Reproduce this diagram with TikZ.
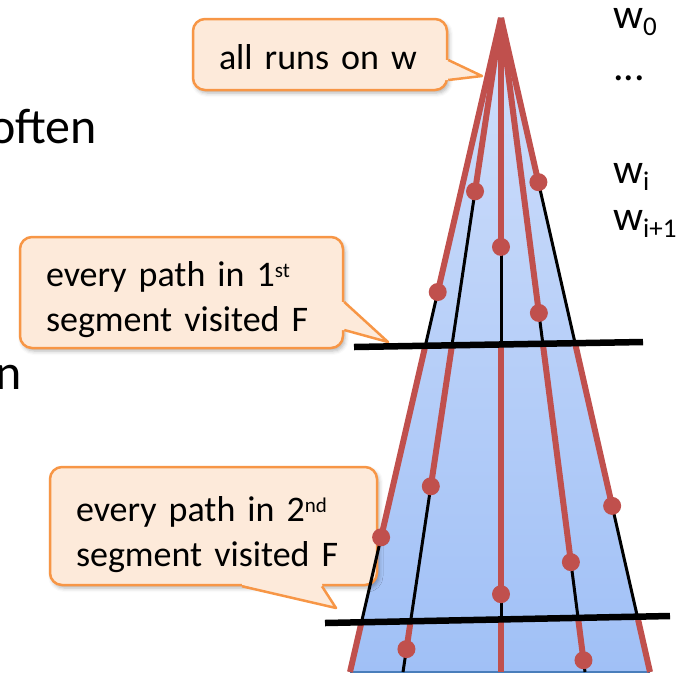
\documentclass[tikz,border=0pt]{standalone}
\usepackage{fontspec}
\setmainfont{Carlito}
\usetikzlibrary{calc,shadows.blur}

\definecolor{boxfill}{RGB}{253,234,218}
\definecolor{boxline}{RGB}{247,150,70}
\definecolor{runred}{RGB}{192,80,77}
\definecolor{conetop}{RGB}{208,223,251}
\definecolor{conebot}{RGB}{160,192,246}
\definecolor{coneedge}{RGB}{74,126,187}

\newcommand{\wsub}[1]{\raisebox{-7pt}{\fontsize{27}{27}\selectfont #1}}
\newcommand{\wsup}[1]{\raisebox{9pt}[0pt][0pt]{\fontsize{21}{21}\selectfont #1}}
\newcommand{\toppad}[1]{\rule{0pt}{#1}}

\tikzset{
  callout/.style={draw=boxline, fill=boxfill, line width=2.5pt, rounded corners=12pt,
    align=left, inner xsep=26pt, inner ysep=0pt, font=\fontsize{36}{45}\selectfont,
    blur shadow={shadow xshift=2pt, shadow yshift=-3pt, shadow blur radius=4pt, shadow opacity=30}},
  pointerfill/.style={fill=boxfill},
  pointerline/.style={draw=boxline, line width=2.5pt, line join=round},
  guide/.style={black, line width=3pt},
  run/.style={runred, line width=6pt},
  dot/.style={circle, fill=runred, inner sep=0pt, minimum size=18pt},
  bar/.style={black, line width=6.5pt},
  wlabel/.style={anchor=base west, inner sep=0pt, font=\fontsize{42}{42}\selectfont},
  body/.style={anchor=base east, inner sep=0pt, font=\fontsize{50}{50}\selectfont}
}

\begin{document}
\begin{tikzpicture}[x=1pt, y=-1pt]
\useasboundingbox (0,0) rectangle (679,673);

% slide text cut off at the left
\node[body] (often) at (97,143) {often};
\node[body] (ln) at (22,389) {n};

% cone of runs
\coordinate (apex) at (501,18);
\coordinate (b1) at (350,672);
\coordinate (b2) at (403,672);
\coordinate (b3) at (501,672);
\coordinate (b4) at (585,672);
\coordinate (b5) at (650,672);
\shade[top color=conetop, bottom color=conebot] (apex) -- (b1) -- (b5) -- cycle;
\draw[coneedge, line width=2pt] (b1) -- (b5);

% callouts
\node[callout, text width=202pt, minimum height=71pt] (runs) at (320,54.5)
  {\toppad{31pt}all runs on w};
\fill[pointerfill] (444,60) -- (447,60) -- (482,76) -- (447,80) -- (444,80) -- cycle;
\draw[pointerline] (runs.east |- 0,60) -- (482,76) -- (runs.east |- 0,80);

\node[callout, text width=271pt, minimum height=111pt] (seg1) at (181.5,292.5)
  {\toppad{39pt}every path in 1\wsup{st}\\segment visited F};
\fill[pointerfill] (340,302) -- (343,302) -- (388,342) -- (343,330) -- (340,330) -- cycle;
\draw[pointerline] (seg1.east |- 0,302) -- (388,342) -- (seg1.east |- 0,330);

\node[callout, text width=275pt, minimum height=118pt] (seg2) at (213.5,526)
  {\toppad{43pt}every path in 2\wsup{nd}\\segment visited F};
\fill[pointerfill] (242,582) -- (242,585) -- (336,608) -- (322,585) -- (322,582) -- cycle;
\draw[pointerline] (seg2.south -| 242,0) -- (336,608) -- (seg2.south -| 322,0);

% lines of the cone
\foreach \i in {1,...,5}
  \draw[guide] (apex) -- (b\i);

% runs in the 1st segment
\foreach \i/\t in {1/0.419, 2/0.265, 3/0.350, 4/0.451, 5/0.251}
  \draw[run] (apex) -- ($(apex)!\t!(b\i)$) node[dot] {};

% runs in the 2nd segment
\foreach \i/\t in {1/0.794, 2/0.716, 3/0.881, 4/0.832, 5/0.746}
  \draw[run] ($(apex)!0.5!(b\i)$) -- ($(apex)!\t!(b\i)$) node[dot] {};

% runs below
\foreach \i/\t in {1/1, 3/1, 5/1}
  \draw[run] ($(apex)!0.92!(b\i)$) -- ($(apex)!\t!(b\i)$);
\foreach \i/\t in {2/0.965, 4/0.982}
  \draw[run] ($(apex)!0.92!(b\i)$) -- ($(apex)!\t!(b\i)$) node[dot] {};

% segment borders
\draw[bar] (354,347) -- (643,342);
\draw[bar] (325,623) -- (670,616);

% word positions
\node[wlabel] (w0) at (613,28) {w\wsub{0}};
\node[wlabel] (wdots) at (613,80) {...};
\node[wlabel] (wi) at (613,183) {w\wsub{i}};
\node[wlabel] (wi1) at (613,230) {w\wsub{i+1}};

\end{tikzpicture}
\end{document}
